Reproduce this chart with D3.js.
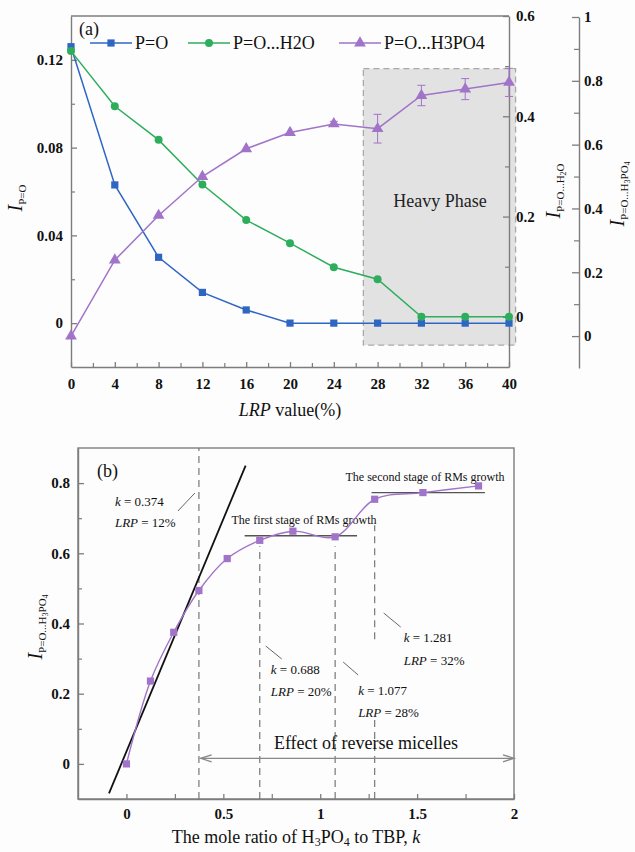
<!DOCTYPE html>
<html><head><meta charset="utf-8">
<script src="https://cdn.jsdelivr.net/npm/d3@7"></script>
<style>body{margin:0;background:#fff}</style>
</head><body><svg id="c" width="635" height="852"></svg>
<script>
// ---------- data: panel (a) ----------
const lrp = [0, 4, 8, 12, 16, 20, 24, 28, 32, 36, 40];
const iPO = [0.126, 0.063, 0.030, 0.014, 0.006, 0, 0, 0, 0, 0, 0];
const iPOH2O = [0.53, 0.42, 0.353, 0.264, 0.193, 0.147, 0.099, 0.075, 0, 0, 0];
const iPOH3PO4 = [0, 0.238, 0.378, 0.50, 0.587, 0.638, 0.665, 0.65, 0.754, 0.774, 0.795];
const errH3PO4 = [0, 0, 0, 0, 0, 0, 0.008, 0.045, 0.032, 0.033, 0.044];
const heavyPhaseLRP = [26.7, 40.6];
const heavyPhaseIPO = [-0.01, 0.116];
const xTicksA = [0, 4, 8, 12, 16, 20, 24, 28, 32, 36, 40];
const yTicksPO = [0, 0.04, 0.08, 0.12];
const yTicksH2O = [0, 0.2, 0.4, 0.6];
const yTicksH3PO4 = [0, 0.2, 0.4, 0.6, 0.8, 1];
const seriesNames = ["P=O", "P=O...H2O", "P=O...H3PO4"];

// ---------- data: panel (b) ----------
const kRatio = [0, 0.124, 0.244, 0.374, 0.52, 0.688, 0.859, 1.077, 1.281, 1.53, 1.817];
const iB = [0, 0.236, 0.375, 0.494, 0.585, 0.637, 0.663, 0.647, 0.754, 0.773, 0.792];
const tangentK = [-0.09, 0.615];
const tangentI = [-0.084, 0.85];
const criticalK = [0.374, 0.688, 1.077, 1.281];
const criticalLRP = [12, 20, 28, 32];
const stage1K = [0.61, 1.19], stage1I = 0.65;
const stage2K = [1.265, 1.85], stage2I = 0.773;
const effectK = [0.383, 2.0], effectI = 0.016;
const xTicksB = [0, 0.5, 1, 1.5, 2];
const yTicksB = [0, 0.2, 0.4, 0.6, 0.8];

const FONT = "Liberation Serif, Times New Roman, serif";
const BLUE = "#2f66c4", GREEN = "#2eae5c", PURPLE = "#a173c9";
const AX = "#7d7d7d";
const svg = d3.select("#c");
svg.append("rect").attr("width", 635).attr("height", 852).attr("fill", "#fdfdfd");

function styleAxis(g, size) {
  g.attr("font-family", FONT).attr("font-size", size || 15);
  g.select(".domain").attr("stroke", AX).attr("stroke-width", 1.4);
  g.selectAll(".tick line").attr("stroke", AX).attr("stroke-width", 1.3);
  g.selectAll(".tick text").attr("font-weight", "bold").attr("fill", "#111");
}
function minor(g, axis) {
  g.call(axis); g.select(".domain").remove();
  g.selectAll(".tick line").attr("stroke", AX).attr("stroke-width", 1.2);
}
function richText(parent, parts, x, y, anchor, rot) {
  const t = parent.append("text").attr("font-family", FONT).attr("fill", "#111")
    .attr("text-anchor", anchor)
    .attr("transform", `translate(${x},${y})` + (rot ? ` rotate(${rot})` : ""));
  parts.forEach(p => {
    const s = t.append("tspan").text(p.t).attr("font-size", p.size);
    if (p.italic) s.attr("font-style", "italic");
    if (p.dy) s.attr("dy", p.dy);
  });
  return t;
}

// ================= Panel (a) =================
const xA = d3.scaleLinear([0, 40], [71, 509]);
const yPO = d3.scaleLinear([-0.02, 0.14], [367, 16]);
const yH2O = d3.scaleLinear([-0.1, 0.6], [367, 16]);
const yH3 = d3.scaleLinear([-0.1, 1.0], [368, 17]);

const gA = svg.append("g");
// heavy phase box
gA.append("rect")
  .attr("x", xA(heavyPhaseLRP[0])).attr("y", yPO(heavyPhaseIPO[1]))
  .attr("width", xA(heavyPhaseLRP[1]) - xA(heavyPhaseLRP[0]))
  .attr("height", yPO(heavyPhaseIPO[0]) - yPO(heavyPhaseIPO[1]))
  .attr("fill", "#e2e2e2").attr("stroke", "#a9a9a9").attr("stroke-width", 1.3)
  .attr("stroke-dasharray", "6,4");
gA.append("text").attr("x", xA(33.7)).attr("y", 207).attr("text-anchor", "middle")
  .attr("font-family", FONT).attr("font-size", 18).attr("fill", "#222").text("Heavy Phase");

// frame
gA.append("line").attr("x1", 71).attr("x2", 509).attr("y1", 16).attr("y2", 16)
  .attr("stroke", AX).attr("stroke-width", 1.4);

// axes
gA.append("g").attr("transform", "translate(0,367)")
  .call(g => minor(g, d3.axisBottom(xA).tickValues(d3.range(2, 40, 4)).tickFormat("").tickSize(-4)));
gA.append("g").attr("transform", "translate(0,367)")
  .call(d3.axisBottom(xA).tickValues(xTicksA).tickFormat(d3.format("d")).tickSize(-5).tickSizeOuter(0).tickPadding(11))
  .call(g => styleAxis(g));
gA.append("g").attr("transform", "translate(71,0)")
  .call(g => minor(g, d3.axisLeft(yPO).tickValues([0.02, 0.06, 0.10]).tickFormat("").tickSize(-4)));
gA.append("g").attr("transform", "translate(71,0)")
  .call(d3.axisLeft(yPO).tickValues(yTicksPO).tickFormat(d => d === 0 ? "0" : d3.format(".2f")(d)).tickSize(-6).tickSizeOuter(0).tickPadding(8))
  .call(g => styleAxis(g));
gA.append("g").attr("transform", "translate(509,0)")
  .call(g => minor(g, d3.axisRight(yH2O).tickValues([0.1, 0.3, 0.5]).tickFormat("").tickSize(-4)));
gA.append("g").attr("transform", "translate(509,0)")
  .call(d3.axisRight(yH2O).tickValues(yTicksH2O).tickFormat(d => d === 0 ? "0" : d3.format(".1f")(d)).tickSize(-6).tickSizeOuter(0).tickPadding(7))
  .call(g => styleAxis(g));
gA.append("g").attr("transform", "translate(579,0)")
  .call(g => minor(g, d3.axisRight(yH3).tickValues([0.1, 0.3, 0.5, 0.7, 0.9]).tickFormat("").tickSize(-5)));
gA.append("g").attr("transform", "translate(579,0)")
  .call(d3.axisRight(yH3).tickValues(yTicksH3PO4).tickFormat(d => d === 0 || d === 1 ? String(d) : d3.format(".1f")(d)).tickSize(-7).tickSizeOuter(0).tickPadding(5))
  .call(g => styleAxis(g));

// series
const idx = d3.range(lrp.length);
const series = [
  {vals: iPO, y: yPO, color: BLUE, sym: d3.symbolSquare, size: 52},
  {vals: iPOH2O, y: yH2O, color: GREEN, sym: d3.symbolCircle, size: 50},
  {vals: iPOH3PO4, y: yH3, color: PURPLE, sym: d3.symbolTriangle, size: 60}
];
// error bars
idx.filter(i => errH3PO4[i] > 0).forEach(i => {
  const x = xA(lrp[i]), y1 = yH3(iPOH3PO4[i] - errH3PO4[i]), y2 = yH3(iPOH3PO4[i] + errH3PO4[i]);
  gA.append("line").attr("x1", x).attr("x2", x).attr("y1", y1).attr("y2", y2).attr("stroke", PURPLE).attr("stroke-width", 1);
  [y1, y2].forEach(yy => gA.append("line").attr("x1", x - 4).attr("x2", x + 4).attr("y1", yy).attr("y2", yy).attr("stroke", PURPLE).attr("stroke-width", 1));
});
series.forEach(s => {
  gA.append("path").attr("fill", "none").attr("stroke", s.color).attr("stroke-width", 1.5)
    .attr("d", d3.line().x(i => xA(lrp[i])).y(i => s.y(s.vals[i]))(idx));
  gA.selectAll(null).data(idx).join("path")
    .attr("transform", i => `translate(${xA(lrp[i])},${s.y(s.vals[i])})`)
    .attr("d", d3.symbol().type(s.sym).size(s.size)).attr("fill", s.color);
});

// legend
const legX = [90, 188, 339];
series.forEach((s, j) => {
  gA.append("line").attr("x1", legX[j]).attr("x2", legX[j] + 42).attr("y1", 43).attr("y2", 43)
    .attr("stroke", s.color).attr("stroke-width", 1.5);
  gA.append("path").attr("transform", `translate(${legX[j] + 21},43)`)
    .attr("d", d3.symbol().type(s.sym).size(s.size)).attr("fill", s.color);
  gA.append("text").attr("x", legX[j] + 45).attr("y", 49).attr("font-family", FONT).attr("font-size", 18)
    .attr("fill", "#111").text(seriesNames[j]);
});
gA.append("text").attr("x", 79).attr("y", 35).attr("font-family", FONT).attr("font-size", 18).attr("fill", "#111").text("(a)");

// axis titles
richText(gA, [{t: "LRP", italic: true, size: 18}, {t: " value(%)", size: 18}], 290, 416, "middle");
richText(gA, [{t: "I", italic: true, size: 20}, {t: "P=O", size: 11, dy: 4}], 22, 198, "middle", -90);
richText(gA, [{t: "I", italic: true, size: 20}, {t: "P=O...H", size: 11, dy: 4}, {t: "2", size: 8, dy: 2}, {t: "O", size: 11, dy: -2}], 560, 191, "middle", -90);
richText(gA, [{t: "I", italic: true, size: 20}, {t: "P=O...H", size: 11, dy: 4}, {t: "3", size: 8, dy: 2}, {t: "PO", size: 11, dy: -2}, {t: "4", size: 8, dy: 2}], 624, 194, "middle", -90);

// ================= Panel (b) =================
const xB = d3.scaleLinear([-0.25, 2], [78, 514]);
const yB = d3.scaleLinear([-0.1, 0.9], [799, 448]);
const gB = svg.append("g");

gB.append("rect").attr("x", 78).attr("y", 448).attr("width", 436).attr("height", 351)
  .attr("fill", "none").attr("stroke", AX).attr("stroke-width", 1.4);
gB.append("g").attr("transform", "translate(0,799)")
  .call(g => minor(g, d3.axisBottom(xB).tickValues([0.25, 0.75, 1.25, 1.75]).tickFormat("").tickSize(-5)));
gB.append("g").attr("transform", "translate(0,799)")
  .call(d3.axisBottom(xB).tickValues(xTicksB).tickFormat(d => String(d)).tickSize(-5).tickSizeOuter(0).tickPadding(9))
  .call(g => styleAxis(g));
gB.append("g").attr("transform", "translate(78,0)")
  .call(g => minor(g, d3.axisLeft(yB).tickValues([0.1, 0.3, 0.5, 0.7]).tickFormat("").tickSize(-4)));
gB.append("g").attr("transform", "translate(78,0)")
  .call(d3.axisLeft(yB).tickValues(yTicksB).tickFormat(d => d === 0 ? "0" : d3.format(".1f")(d)).tickSize(-6).tickSizeOuter(0).tickPadding(8))
  .call(g => styleAxis(g));

// dashed critical lines
const DASH = {stroke: "#777", "stroke-width": 1.2, "stroke-dasharray": "7,5"};
function dline(k, i1, i2) {
  const l = gB.append("line").attr("x1", xB(k)).attr("x2", xB(k)).attr("y1", yB(i1)).attr("y2", yB(i2));
  Object.entries(DASH).forEach(([a, v]) => l.attr(a, v));
}
dline(criticalK[0], -0.1, 0.9);
dline(criticalK[1], -0.1, 0.62);
dline(criticalK[2], -0.1, 0.62);
dline(criticalK[3], 0.355, 0.68);
dline(criticalK[3], -0.1, 0.13);

// plateau lines
[[stage1K, stage1I], [stage2K, stage2I]].forEach(([k, v]) =>
  gB.append("line").attr("x1", xB(k[0])).attr("x2", xB(k[1])).attr("y1", yB(v)).attr("y2", yB(v))
    .attr("stroke", "#555").attr("stroke-width", 1.3));
gB.append("text").attr("x", 304).attr("y", 524).attr("text-anchor", "middle").attr("font-family", FONT)
  .attr("font-size", 12).attr("fill", "#111").text("The first stage of RMs growth");
gB.append("text").attr("x", 425).attr("y", 481).attr("text-anchor", "middle").attr("font-family", FONT)
  .attr("font-size", 12).attr("fill", "#111").text("The second stage of RMs growth");

// tangent line
gB.append("line").attr("x1", xB(tangentK[0])).attr("y1", yB(tangentI[0]))
  .attr("x2", xB(tangentK[1])).attr("y2", yB(tangentI[1])).attr("stroke", "#111").attr("stroke-width", 1.8);

// smooth curve + squares
gB.append("path").attr("fill", "none").attr("stroke", PURPLE).attr("stroke-width", 1.4)
  .attr("d", d3.line().curve(d3.curveCatmullRom.alpha(0.5)).x(i => xB(kRatio[i])).y(i => yB(iB[i]))(d3.range(kRatio.length)));
gB.selectAll(null).data(d3.range(kRatio.length)).join("rect")
  .attr("x", i => xB(kRatio[i]) - 3.6).attr("y", i => yB(iB[i]) - 3.6)
  .attr("width", 7.2).attr("height", 7.2).attr("fill", PURPLE);

// annotations
const annot = [
  {dx: -84, kY: 506, lrpY: 527, lx1: -21, ly1: 511, lx2: -4, ly2: 493},
  {dx: 11, kY: 674, lrpY: 696, lx1: 6, ly1: 646, lx2: 22, ly2: 659},
  {dx: 23, kY: 695, lrpY: 717, lx1: 8, ly1: 662, lx2: 23, ly2: 675},
  {dx: 29, kY: 642, lrpY: 665, lx1: 9, ly1: 613, lx2: 26, ly2: 627}
];
criticalK.forEach((k, i) => {
  const a = annot[i], x0 = xB(k);
  richText(gB, [{t: "k", italic: true, size: 13}, {t: " = " + k.toFixed(3), size: 13}], x0 + a.dx, a.kY, "start");
  richText(gB, [{t: "LRP", italic: true, size: 13}, {t: " = " + criticalLRP[i] + "%", size: 13}], x0 + a.dx, a.lrpY, "start");
  gB.append("line").attr("x1", x0 + a.lx1).attr("y1", a.ly1).attr("x2", x0 + a.lx2).attr("y2", a.ly2)
    .attr("stroke", "#666").attr("stroke-width", 1);
});

// effect arrow
const ay = yB(effectI), ax1 = xB(effectK[0]), ax2 = xB(effectK[1]);
gB.append("line").attr("x1", ax1).attr("x2", ax2).attr("y1", ay).attr("y2", ay).attr("stroke", "#888").attr("stroke-width", 1.3);
gB.append("path").attr("d", `M${ax1 + 11},${ay - 3.5}L${ax1},${ay}L${ax1 + 11},${ay + 3.5}`)
  .attr("fill", "none").attr("stroke", "#888").attr("stroke-width", 1.3);
gB.append("path").attr("d", `M${ax2 - 11},${ay - 3.5}L${ax2},${ay}L${ax2 - 11},${ay + 3.5}`)
  .attr("fill", "none").attr("stroke", "#888").attr("stroke-width", 1.3);
gB.append("text").attr("x", 366).attr("y", 749).attr("text-anchor", "middle").attr("font-family", FONT)
  .attr("font-size", 18).attr("fill", "#111").text("Effect of reverse micelles");

gB.append("text").attr("x", 97).attr("y", 477).attr("font-family", FONT).attr("font-size", 18).attr("fill", "#111").text("(b)");

// axis titles
richText(gB, [{t: "The mole ratio of H", size: 18}, {t: "3", size: 12, dy: 3}, {t: "PO", size: 18, dy: -3}, {t: "4", size: 12, dy: 3}, {t: " to TBP, ", size: 18, dy: -3}, {t: "k", italic: true, size: 18}], 296, 843, "middle");
richText(gB, [{t: "I", italic: true, size: 20}, {t: "P=O...H", size: 11, dy: 4}, {t: "3", size: 8, dy: 2}, {t: "PO", size: 11, dy: -2}, {t: "4", size: 8, dy: 2}], 42, 627, "middle", -90);
</script></body></html>
